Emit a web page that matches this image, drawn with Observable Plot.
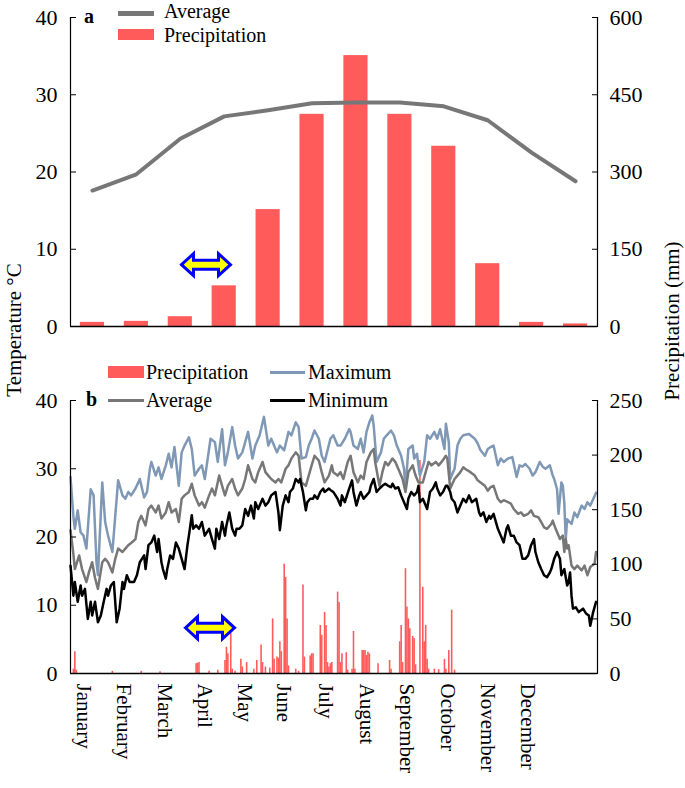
<!DOCTYPE html>
<html><head><meta charset="utf-8">
<script src="https://cdn.jsdelivr.net/npm/d3@7"></script>
<script src="https://cdn.jsdelivr.net/npm/@observablehq/plot@0.6"></script>
<style>
body{margin:0;background:#fff;}
#root{position:relative;width:685px;height:788px;font-family:"Liberation Serif","Times New Roman",serif;overflow:hidden;background:#fff;}
#root svg{position:absolute;left:0;}
.t{position:absolute;font-size:20px;line-height:20px;white-space:nowrap;color:#000;}
.sw{position:absolute;}
.rot{position:absolute;font-size:21px;line-height:21px;white-space:nowrap;transform:translate(-50%,-50%) rotate(-90deg);}
</style></head><body><div id="root"></div>
<script>
// ---------- Panel a: monthly ----------
const months = ["January","February","March","April","May","June","July","August","September","October","November","December"];
const monthAvgTemp = [17.6,19.7,24.3,27.2,28.0,28.9,29.0,29.0,28.5,26.7,22.5,18.8];
const monthPrecip = [8,10,19,79,227,412,526,412,350,122,8,5];
const precipTicksA = [0,150,300,450,600];
const tempTicks = [0,10,20,30,40];

// ---------- Panel b: daily (day of year, value) ----------
const monthLabelDays = [9,37,65,93,121,148,177,205,233,261,289,317];
const precipTicksB = [0,50,100,150,200,250];

const dailyMax = [[0,28.8],[2,23.0],[3,21.2],[5,23.9],[7,20.7],[9,20.2],[11,18.3],[14,27.0],[16,26.1],[18,16.3],[19,14.4],[22,28.0],[24,22.2],[26,20.2],[29,17.8],[31,23.1],[33,28.3],[36,26.1],[38,25.6],[40,26.6],[42,26.1],[45,27.1],[47,28.0],[48,28.5],[51,25.8],[53,26.6],[55,30.0],[56,31.0],[59,29.0],[61,30.2],[63,28.5],[66,30.5],[68,32.2],[70,30.2],[72,33.2],[75,27.5],[77,32.4],[79,33.4],[82,34.6],[84,32.9],[86,29.0],[89,30.0],[91,30.5],[93,28.5],[97,34.4],[100,33.9],[102,31.0],[105,35.8],[107,30.5],[109,32.4],[112,36.1],[114,33.4],[116,31.5],[119,32.4],[123,35.4],[126,31.5],[128,33.4],[131,34.9],[134,37.6],[137,33.4],[139,34.4],[143,32.4],[145,33.4],[148,32.7],[151,35.4],[153,34.9],[156,36.8],[158,36.1],[160,31.5],[163,31.7],[165,33.4],[167,34.4],[169,35.6],[172,34.4],[174,31.9],[176,31.0],[180,34.4],[182,34.9],[185,33.4],[187,33.4],[190,34.4],[193,35.8],[194,35.4],[196,33.4],[199,32.9],[201,34.4],[203,32.4],[205,35.4],[207,36.8],[209,37.8],[210,36.3],[212,31.0],[215,32.4],[217,34.4],[219,34.9],[222,35.6],[224,34.9],[226,33.4],[229,31.9],[231,30.0],[232,27.0],[234,32.9],[237,33.4],[238,31.5],[240,32.2],[241,30.5],[242,29.0],[245,31.0],[247,34.9],[249,34.4],[252,35.4],[254,34.4],[256,35.8],[259,32.9],[260,36.6],[262,33.9],[263,28.5],[266,30.0],[268,33.4],[270,34.4],[272,34.9],[276,35.1],[280,34.4],[282,33.7],[284,32.7],[287,31.9],[289,32.9],[291,33.2],[293,33.4],[296,30.5],[298,31.5],[300,31.0],[303,31.5],[306,31.7],[309,28.8],[311,30.5],[313,30.3],[315,30.7],[318,30.0],[320,29.0],[322,29.5],[325,31.0],[327,30.3],[329,30.0],[332,30.5],[334,29.0],[335,28.5],[337,27.0],[338,23.4],[340,28.0],[341,27.5],[342,25.0],[343,19.7],[344,22.6],[347,21.9],[349,23.6],[351,22.9],[354,24.6],[356,24.1],[358,25.1],[360,24.6],[363,26.0],[364,26.5]];

const dailyAvg = [[0,21.0],[2,17.5],[3,15.3],[6,17.3],[8,15.3],[11,13.4],[13,15.0],[15,16.3],[17,14.0],[19,12.4],[22,16.3],[24,16.8],[26,16.3],[29,14.8],[31,16.8],[33,18.3],[36,17.8],[38,18.3],[40,18.8],[43,19.3],[45,19.7],[47,22.2],[49,23.1],[52,21.7],[54,24.1],[56,24.6],[59,23.6],[61,24.6],[63,22.7],[66,23.6],[68,25.1],[70,23.6],[73,24.1],[75,22.2],[77,25.6],[79,26.1],[82,26.6],[84,27.8],[86,26.1],[89,24.6],[91,25.1],[93,24.3],[96,26.1],[98,27.1],[100,26.1],[103,29.0],[105,27.5],[107,26.1],[109,27.5],[112,28.5],[114,27.1],[116,26.1],[119,27.1],[121,28.5],[123,30.5],[126,28.5],[128,28.0],[130,29.5],[133,31.0],[135,29.5],[137,29.0],[139,28.5],[142,28.0],[144,28.5],[146,28.0],[149,30.0],[151,30.5],[153,31.5],[156,32.4],[158,31.9],[160,28.0],[163,27.5],[165,29.0],[167,30.5],[169,31.9],[172,31.2],[174,29.5],[176,28.0],[179,29.0],[181,30.5],[182,29.5],[185,29.0],[187,29.5],[189,28.5],[192,31.0],[194,31.9],[196,29.5],[199,28.0],[201,29.0],[203,28.5],[205,31.0],[208,32.4],[210,32.9],[211,31.0],[214,27.5],[216,29.5],[218,31.0],[220,30.5],[223,31.5],[225,31.0],[227,30.0],[230,28.5],[232,26.6],[234,29.5],[237,30.5],[239,29.0],[241,28.0],[244,28.0],[246,29.5],[248,31.0],[250,30.5],[253,31.0],[255,30.5],[257,31.0],[260,31.9],[261,31.5],[263,27.1],[266,28.5],[268,29.0],[270,29.5],[272,30.2],[274,29.9],[277,29.5],[280,29.0],[282,28.3],[284,28.0],[287,27.5],[289,26.8],[291,27.3],[293,27.5],[296,25.6],[298,25.1],[300,25.4],[303,25.1],[305,24.9],[307,24.1],[310,23.4],[312,23.6],[314,23.1],[317,23.4],[319,23.9],[321,23.1],[324,22.9],[326,22.2],[328,21.4],[330,21.2],[333,21.9],[334,22.4],[336,21.2],[339,19.7],[341,20.2],[342,17.8],[343,19.7],[344,18.3],[345,18.8],[347,15.8],[349,15.3],[351,15.8],[354,15.1],[356,15.8],[358,14.4],[360,15.6],[363,16.1],[364,17.8]];

const dailyMin = [[0,15.8],[2,11.4],[3,13.4],[5,10.5],[7,12.9],[8,11.4],[10,12.4],[12,8.0],[14,10.5],[15,8.5],[17,10.5],[19,7.5],[21,8.5],[23,10.5],[25,12.4],[26,11.4],[28,12.9],[30,13.4],[32,7.5],[34,9.5],[36,13.4],[37,12.4],[39,14.4],[41,13.4],[44,13.4],[46,14.4],[48,16.3],[51,17.3],[52,15.3],[54,18.8],[56,19.2],[58,20.2],[60,17.8],[61,19.7],[63,16.3],[64,15.3],[66,13.9],[67,15.3],[69,17.3],[71,16.8],[73,19.2],[75,18.3],[77,16.8],[79,15.3],[81,18.8],[82,20.2],[84,23.2],[85,21.2],[87,21.7],[89,21.2],[91,22.2],[93,20.2],[96,21.2],[98,19.7],[100,18.3],[101,21.2],[103,19.7],[105,22.2],[107,20.2],[108,21.7],[110,23.6],[112,21.2],[114,20.2],[115,21.2],[117,21.2],[119,21.7],[121,24.1],[123,23.1],[125,24.6],[127,22.7],[128,25.1],[130,24.1],[133,25.6],[135,24.6],[137,25.1],[139,26.1],[142,26.6],[144,23.6],[145,21.0],[147,24.6],[149,26.1],[151,25.1],[152,26.6],[154,27.1],[156,28.5],[158,28.0],[159,28.5],[161,26.6],[163,23.9],[164,25.1],[166,25.6],[168,25.6],[169,26.1],[171,25.6],[173,26.6],[175,27.1],[176,26.6],[179,27.1],[180,26.9],[182,26.6],[185,25.6],[187,24.6],[188,26.1],[190,25.1],[193,27.1],[195,28.3],[196,26.6],[198,24.6],[200,26.1],[201,26.6],[203,25.6],[205,26.1],[207,26.6],[208,27.5],[210,28.5],[212,26.6],[214,27.1],[216,27.5],[218,27.8],[220,27.5],[222,27.3],[223,27.8],[225,27.1],[227,27.3],[229,26.1],[231,25.1],[233,24.1],[234,25.6],[236,26.6],[238,26.1],[240,26.6],[241,27.5],[242,25.1],[244,25.6],[246,24.6],[247,24.1],[249,26.6],[251,27.1],[253,28.0],[254,27.1],[256,26.1],[258,26.6],[260,27.5],[261,27.5],[263,26.6],[264,25.6],[266,25.1],[268,23.6],[270,24.6],[272,25.6],[274,25.1],[276,26.1],[278,25.1],[281,25.6],[283,23.6],[284,23.1],[286,23.6],[288,22.2],[290,23.1],[291,22.7],[293,23.4],[296,21.2],[298,20.2],[300,19.2],[302,21.2],[303,21.7],[305,20.2],[307,20.2],[309,19.2],[311,18.8],[313,16.8],[315,16.8],[317,17.3],[319,18.8],[321,19.7],[322,17.8],[324,16.3],[326,15.3],[328,14.4],[330,14.1],[332,14.8],[333,15.3],[335,16.8],[337,17.8],[339,16.8],[340,14.4],[342,15.3],[344,12.9],[345,13.4],[346,14.8],[347,11.4],[348,9.5],[350,9.7],[352,9.0],[355,9.5],[357,8.8],[359,8.5],[360,7.0],[362,9.0],[364,10.5]];

const dailyPrecip = [[2,4],[3,20],[4,3],[29,2],[49,2],[62,1.5],[87,9],[88,9.5],[89,10],[96,2],[102,3],[107,12],[108,24],[109,18],[111,37],[112,4],[114,2],[118,13],[119,6],[122,10],[127,4],[129,12],[132,26],[133,10],[135,6],[138,5],[140,50],[141,13],[143,15],[144,14],[145,29],[146,20],[148,100],[149,88],[150,50],[151,7],[156,4],[158,2],[161,81],[162,15],[166,16],[167,18],[168,18],[173,44],[174,35],[176,56],[177,44],[178,10],[179,6],[180,9],[181,10],[185,74.5],[186,65],[187,10],[188,18],[191,19],[192,3],[195,4],[196,38.5],[197,4],[202,21],[203,21],[204,21],[205,16.5],[206,19.5],[207,18],[213,9],[221,12],[222,4],[228,29],[229,44],[230,10],[232,96],[233,61],[234,50],[235,41],[237,34],[238,32],[239,8],[242,195],[244,79],[245,29],[246,44],[247,13],[248,4],[252,4],[255,3.5],[259,13],[260,4],[262,21],[264,58],[266,3]];

// annotation arrows (data coordinates)
const arrowA = [{month: 3.585, temp: 8.0}];
const arrowB = [{day: 96.6, temp: 6.7}];

// ---------- styling ----------
const RED = "#ff5b5b", GREY = "#777777", BLUE = "#7f98b5", BLACK = "#000000";
const FONT = "Liberation Serif, Times New Roman, serif";
const TICK_FS = 22, MONTH_FS = 21;

const doubleArrow = {
  draw(ctx, size) {
    const s = Math.sqrt(size / Math.PI);
    const w = 2.45 * s, hl = 1.2 * s, hh = 1.1 * s, sh = 0.45 * s;
    ctx.moveTo(-w, 0);
    ctx.lineTo(-w + hl, -hh);
    ctx.lineTo(-w + hl, -sh);
    ctx.lineTo(w - hl, -sh);
    ctx.lineTo(w - hl, -hh);
    ctx.lineTo(w, 0);
    ctx.lineTo(w - hl, hh);
    ctx.lineTo(w - hl, sh);
    ctx.lineTo(-w + hl, sh);
    ctx.lineTo(-w + hl, hh);
    ctx.closePath();
  }
};

const root = document.getElementById("root");
const monthIdx = d3.range(months.length);
const kA = 40 / 600, kB = 40 / 250;

const plotA = Plot.plot({
  width: 685, height: 340,
  marginLeft: 70, marginRight: 88, marginTop: 17, marginBottom: 14,
  style: {fontFamily: FONT, fontSize: "20px", color: "#000", background: "transparent", overflow: "visible"},
  x: {domain: [0.5, 12.5], axis: null},
  y: {domain: [0, 40]},
  marks: [
    Plot.rectY(monthIdx, {x1: i => i + 1 - 0.275, x2: i => i + 1 + 0.275, y: i => monthPrecip[i] * kA, fill: RED}),
    Plot.line(monthIdx, {x: i => i + 1, y: i => monthAvgTemp[i], stroke: GREY, strokeWidth: 4, strokeLinejoin: "round"}),
    Plot.dot(arrowA, {x: "month", y: "temp", r: 10, symbol: doubleArrow, fill: "#ffff00", stroke: "#0000ff", strokeWidth: 3}),
    Plot.ruleY([0], {stroke: "#000", strokeWidth: 1.5}),
    Plot.ruleX([0.5, 12.5], {stroke: "#000", strokeWidth: 1.2}),
    Plot.axisY(tempTicks, {anchor: "left", tickSize: -6, tickPadding: 19, fontSize: TICK_FS, label: null}),
    Plot.axisY(precipTicksA.map(v => v * kA), {anchor: "right", tickSize: -6, tickPadding: 18, fontSize: TICK_FS, label: null, tickFormat: d => Math.round(d / kA)})
  ]
});
plotA.style.top = "0px";
root.appendChild(plotA);

const labelByDay = new Map(monthLabelDays.map((d, i) => [d, months[i]]));
const plotB = Plot.plot({
  width: 685, height: 448,
  marginLeft: 70, marginRight: 88, marginTop: 60, marginBottom: 115,
  style: {fontFamily: FONT, fontSize: "20px", color: "#000", background: "transparent", overflow: "visible"},
  x: {domain: [0, 365]},
  y: {domain: [0, 40]},
  marks: [
    Plot.ruleX(dailyPrecip, {x: d => d[0], y1: 0, y2: d => d[1] * kB, stroke: RED, strokeWidth: 1.6}),
    Plot.line(dailyMax, {x: d => d[0], y: d => d[1], stroke: BLUE, strokeWidth: 2.5, strokeLinejoin: "round"}),
    Plot.line(dailyAvg, {x: d => d[0], y: d => d[1], stroke: GREY, strokeWidth: 2.5, strokeLinejoin: "round"}),
    Plot.line(dailyMin, {x: d => d[0], y: d => d[1], stroke: BLACK, strokeWidth: 2.5, strokeLinejoin: "round"}),
    Plot.dot(arrowB, {x: "day", y: "temp", r: 10, symbol: doubleArrow, fill: "#ffff00", stroke: "#0000ff", strokeWidth: 3}),
    Plot.ruleY([0], {stroke: "#000", strokeWidth: 1.5}),
    Plot.ruleX([0, 365], {stroke: "#000", strokeWidth: 1.2}),
    Plot.axisY(tempTicks, {anchor: "left", tickSize: -6, tickPadding: 19, fontSize: TICK_FS, label: null}),
    Plot.axisY(precipTicksB.map(v => v * kB), {anchor: "right", tickSize: -6, tickPadding: 18, fontSize: TICK_FS, label: null, tickFormat: d => Math.round(d / kB)}),
    Plot.axisX(monthLabelDays, {anchor: "bottom", tickSize: 0, tickPadding: 10, tickRotate: 90, fontSize: MONTH_FS, label: null, tickFormat: d => labelByDay.get(d)})
  ]
});
plotB.style.top = "340px";
root.appendChild(plotB);

// ---------- legends & titles (HTML) ----------
function text(str, left, top, extra = "") {
  const el = document.createElement("div");
  el.className = "t"; el.textContent = str;
  el.style.left = left + "px"; el.style.top = top + "px";
  if (extra) el.style.cssText += extra;
  root.appendChild(el);
}
function swatch(left, top, w, h, color) {
  const el = document.createElement("div");
  el.className = "sw";
  el.style.cssText += `left:${left}px;top:${top}px;width:${w}px;height:${h}px;background:${color};`;
  root.appendChild(el);
}
function rotLabel(str, cx, cy) {
  const el = document.createElement("div");
  el.className = "rot"; el.textContent = str;
  el.style.left = cx + "px"; el.style.top = cy + "px";
  root.appendChild(el);
}

// panel a
text("a", 84, 6, "font-weight:bold;");
swatch(118, 11, 36, 4.5, GREY);
text("Average", 164, 1);
swatch(118, 29, 36, 11, RED);
text("Precipitation", 164, 25);

// panel b
swatch(108, 366, 36, 12, RED);
text("Precipitation", 146, 362);
swatch(270, 370.5, 35, 3, BLUE);
text("Maximum", 308, 362);
text("b", 86, 389, "font-weight:bold;");
swatch(108, 398.5, 36, 3, GREY);
text("Average", 146, 390);
swatch(270, 398.5, 35, 3, BLACK);
text("Minimum", 308, 390);

rotLabel("Temperature °C", 14, 330);
rotLabel("Precipitation (mm)", 672, 321);
</script></body></html>
